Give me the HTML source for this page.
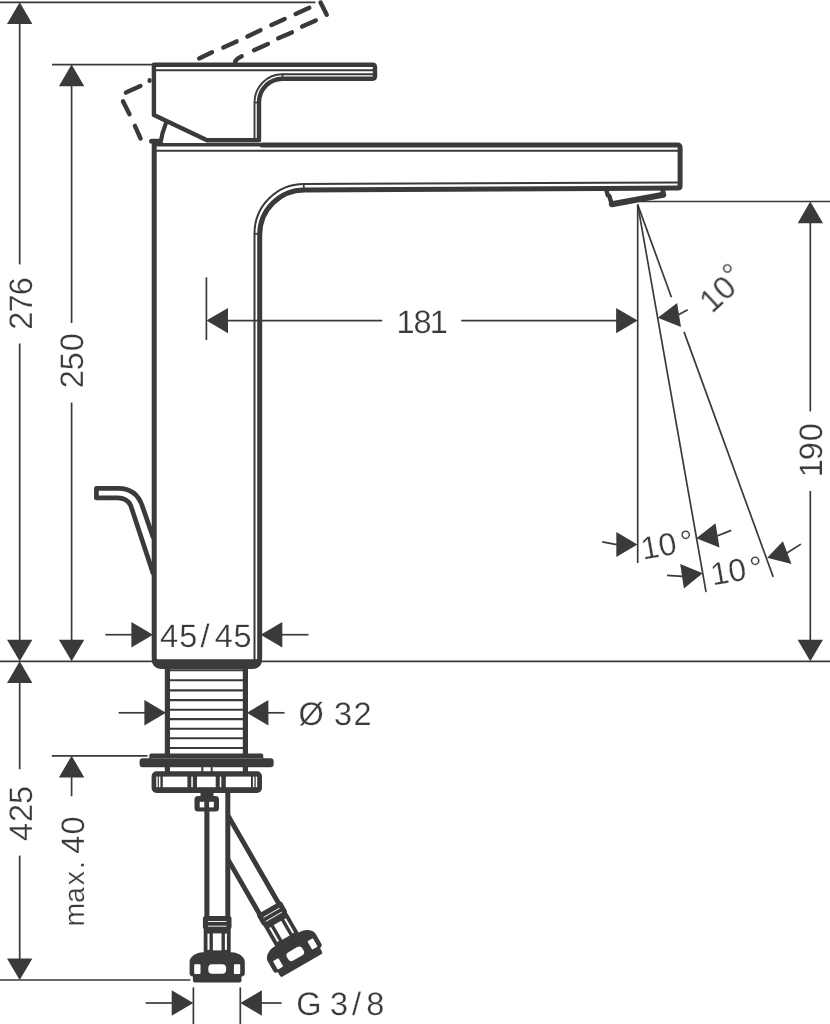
<!DOCTYPE html>
<html><head><meta charset="utf-8"><title>Dimension drawing</title>
<style>
html,body{margin:0;padding:0;background:#fff;}
svg{display:block;}
text{font-family:"Liberation Sans",sans-serif;text-rendering:geometricPrecision;}
</style></head>
<body>
<svg width="830" height="1024" viewBox="0 0 830 1024">
<rect width="830" height="1024" fill="#fff"/>
<line x1="0" y1="2.3" x2="315.5" y2="2.3" stroke="#3a3a3a" stroke-width="1.7" stroke-linecap="butt"/>
<polygon points="19.7,2.3 32.4,23.9 7.0,23.9" fill="#3a3a3a"/>
<line x1="19.7" y1="22" x2="19.7" y2="264.4" stroke="#3a3a3a" stroke-width="1.7" stroke-linecap="butt"/>
<line x1="19.7" y1="343.5" x2="19.7" y2="642" stroke="#3a3a3a" stroke-width="1.7" stroke-linecap="butt"/>
<polygon points="19.7,661.3 7.0,639.7 32.4,639.7" fill="#3a3a3a"/>
<line x1="52" y1="64.6" x2="152" y2="64.6" stroke="#3a3a3a" stroke-width="1.7" stroke-linecap="butt"/>
<polygon points="71.6,64.6 84.3,86.2 58.9,86.2" fill="#3a3a3a"/>
<line x1="71.6" y1="84" x2="71.6" y2="323" stroke="#3a3a3a" stroke-width="1.7" stroke-linecap="butt"/>
<line x1="71.6" y1="402.5" x2="71.6" y2="642" stroke="#3a3a3a" stroke-width="1.7" stroke-linecap="butt"/>
<polygon points="71.6,661.3 58.9,639.7 84.3,639.7" fill="#3a3a3a"/>
<line x1="0" y1="661.3" x2="830" y2="661.3" stroke="#3a3a3a" stroke-width="1.7" stroke-linecap="butt"/>
<polygon points="19.7,661.3 32.4,682.9 7.0,682.9" fill="#3a3a3a"/>
<line x1="19.7" y1="681" x2="19.7" y2="769.3" stroke="#3a3a3a" stroke-width="1.7" stroke-linecap="butt"/>
<line x1="19.7" y1="855.6" x2="19.7" y2="960" stroke="#3a3a3a" stroke-width="1.7" stroke-linecap="butt"/>
<polygon points="19.7,980.0 7.0,958.4 32.4,958.4" fill="#3a3a3a"/>
<line x1="0" y1="980" x2="190.4" y2="980" stroke="#3a3a3a" stroke-width="1.7" stroke-linecap="butt"/>
<line x1="51.8" y1="755.8" x2="147.5" y2="755.8" stroke="#3a3a3a" stroke-width="1.7" stroke-linecap="butt"/>
<polygon points="71.6,755.8 84.3,777.4 58.9,777.4" fill="#3a3a3a"/>
<line x1="71.6" y1="776" x2="71.6" y2="796.3" stroke="#3a3a3a" stroke-width="1.7" stroke-linecap="butt"/>
<line x1="105.4" y1="634.7" x2="133" y2="634.7" stroke="#3a3a3a" stroke-width="1.7" stroke-linecap="butt"/>
<polygon points="153.0,634.7 131.4,647.4 131.4,622.0" fill="#3a3a3a"/>
<polygon points="260.7,634.7 282.3,622.0 282.3,647.4" fill="#3a3a3a"/>
<line x1="281" y1="634.7" x2="308.5" y2="634.7" stroke="#3a3a3a" stroke-width="1.7" stroke-linecap="butt"/>
<line x1="118.6" y1="712.8" x2="146" y2="712.8" stroke="#3a3a3a" stroke-width="1.7" stroke-linecap="butt"/>
<polygon points="166.0,712.8 144.4,725.5 144.4,700.1" fill="#3a3a3a"/>
<polygon points="246.8,712.8 268.4,700.1 268.4,725.5" fill="#3a3a3a"/>
<line x1="267" y1="712.8" x2="284.5" y2="712.8" stroke="#3a3a3a" stroke-width="1.7" stroke-linecap="butt"/>
<line x1="145.6" y1="1003" x2="174" y2="1003" stroke="#3a3a3a" stroke-width="1.7" stroke-linecap="butt"/>
<polygon points="193.3,1003.0 171.7,1015.7 171.7,990.3" fill="#3a3a3a"/>
<polygon points="240.3,1003.0 261.9,990.3 261.9,1015.7" fill="#3a3a3a"/>
<line x1="260" y1="1003" x2="281.6" y2="1003" stroke="#3a3a3a" stroke-width="1.7" stroke-linecap="butt"/>
<line x1="193.4" y1="987.4" x2="193.4" y2="1024" stroke="#3a3a3a" stroke-width="1.7" stroke-linecap="butt"/>
<line x1="240.3" y1="987.4" x2="240.3" y2="1024" stroke="#3a3a3a" stroke-width="1.7" stroke-linecap="butt"/>
<line x1="206.4" y1="277.3" x2="206.4" y2="340" stroke="#3a3a3a" stroke-width="1.7" stroke-linecap="butt"/>
<polygon points="206.4,320.6 228.0,307.9 228.0,333.3" fill="#3a3a3a"/>
<line x1="227" y1="320.6" x2="382.2" y2="320.6" stroke="#3a3a3a" stroke-width="1.7" stroke-linecap="butt"/>
<line x1="461.2" y1="320.6" x2="617" y2="320.6" stroke="#3a3a3a" stroke-width="1.7" stroke-linecap="butt"/>
<polygon points="637.7,320.6 616.1,333.3 616.1,307.9" fill="#3a3a3a"/>
<line x1="640" y1="201.5" x2="830" y2="201.5" stroke="#3a3a3a" stroke-width="1.7" stroke-linecap="butt"/>
<polygon points="810.3,201.6 823.0,223.2 797.6,223.2" fill="#3a3a3a"/>
<line x1="810.3" y1="222" x2="810.3" y2="411.4" stroke="#3a3a3a" stroke-width="1.7" stroke-linecap="butt"/>
<line x1="810.3" y1="491" x2="810.3" y2="641" stroke="#3a3a3a" stroke-width="1.7" stroke-linecap="butt"/>
<polygon points="810.3,661.3 797.6,639.7 823.0,639.7" fill="#3a3a3a"/>
<line x1="637.7" y1="204.6" x2="637.7" y2="563" stroke="#3a3a3a" stroke-width="1.7" stroke-linecap="butt"/>
<line x1="637.7" y1="204.6" x2="706.0443377226011" y2="592.2" stroke="#3a3a3a" stroke-width="1.7" stroke-linecap="butt"/>
<line x1="637.7" y1="204.6" x2="671.4036436930504" y2="297.2" stroke="#3a3a3a" stroke-width="1.7" stroke-linecap="butt"/>
<line x1="684.0334108220876" y1="331.9" x2="773.2061182173072" y2="576.9" stroke="#3a3a3a" stroke-width="1.7" stroke-linecap="butt"/>
<polygon points="657.8,317.8 677.1,303.0 681.0,327.1" fill="#3a3a3a"/>
<line x1="678.5" y1="314.8" x2="687.7" y2="309.7" stroke="#3a3a3a" stroke-width="1.7" stroke-linecap="butt"/>
<polygon points="637.4,544.5 616.3,531.9 616.3,557.0" fill="#3a3a3a"/>
<line x1="602.2" y1="541.8" x2="616.8" y2="544.6" stroke="#3a3a3a" stroke-width="1.7" stroke-linecap="butt"/>
<polygon points="696.3,538.2 715.5,523.3 719.5,547.6" fill="#3a3a3a"/>
<line x1="717" y1="536" x2="731.2" y2="530.4" stroke="#3a3a3a" stroke-width="1.7" stroke-linecap="butt"/>
<polygon points="702.7,573.2 680.2,563.9 683.9,588.4" fill="#3a3a3a"/>
<line x1="667" y1="575.4" x2="682.5" y2="576.3" stroke="#3a3a3a" stroke-width="1.7" stroke-linecap="butt"/>
<polygon points="767.2,557.8 782.9,541.3 791.5,564.0" fill="#3a3a3a"/>
<line x1="786.5" y1="553.2" x2="800.9" y2="544.1" stroke="#3a3a3a" stroke-width="1.7" stroke-linecap="butt"/>
<g fill="#3a3a3a" font-family="&quot;Liberation Sans&quot;, sans-serif" stroke="#fff" stroke-width="0.25" opacity="0.999">
<text transform="translate(32.0 0) rotate(-90)" font-size="32.5" x="-329.7 -312.4 -295.3" y="0">276</text>
<text transform="translate(83.2 0) rotate(-90)" font-size="32.5" x="-388.3 -370.2 -351.2" y="0">250</text>
<text transform="translate(32.0 0) rotate(-90)" font-size="32.5" x="-841.1 -821.9 -804.0" y="0">425</text>
<text transform="translate(83.5 0) rotate(-90)" font-size="32.5" y="0"><tspan font-size="28.5" x="-926.6 -903.1 -885.2 -869.0">max.</tspan> <tspan x="-853.7 -834.6">40</tspan></text>
<text transform="translate(822.0 0) rotate(-90)" font-size="32.5" x="-477.2 -460.3 -441.3" y="0">190</text>
<text font-size="32.5" x="160.0 179.2 200.5 214.8 233.4" y="646.7">45/45</text>
<text font-size="32.5" x="298.4 324.9 334.0 353.4" y="724.5">Ø 32</text>
<text font-size="32.5" x="296.2 320.8 329.9 352.1 366.3" y="1014.8">G 3/8</text>
<text font-size="32.5" x="396.5 413.4 429.8" y="332.9">181</text>
<text x="712.1" y="314.2" transform="rotate(-43 712.1 314.2)" font-size="32" dx="0 0 0.4" dy="0 0 -5.2">10°</text>
<text x="643.1" y="559.8" transform="rotate(-10 643.1 559.8)" font-size="32" dx="0 0 4.2" dy="0 0 0.7">10°</text>
<text x="712.8" y="585.6" transform="rotate(-10 712.8 585.6)" font-size="32" dx="0 0 4.2" dy="0 0 0.7">10°</text>
</g>
<path d="M154.2,145 L154.2,657.5 Q154.2,663 159.5,663 L254.5,663 Q259.7,663 259.7,657.5 L259.7,234.6 A44.7,44.7 0 0 1 304.4,189.9 L677.5,188.1 Q680.1,188.1 680.1,186 L680.1,148 Q680.1,145 677.5,145 L262,145" fill="none" stroke="#3a3a3a" stroke-width="5.0" stroke-linejoin="round" stroke-linecap="round"/>
<path d="M154.2,144.7 L262,144.7" fill="none" stroke="#3a3a3a" stroke-width="3.5" stroke-linejoin="round" stroke-linecap="butt"/>
<path d="M155,150.7 L679,150.7" fill="none" stroke="#3a3a3a" stroke-width="2.1" stroke-linejoin="round" stroke-linecap="butt"/>
<path d="M254.5,662 L254.5,233.6 A49.5,49.5 0 0 1 304,184 L679,182.5" fill="none" stroke="#3a3a3a" stroke-width="2.0" stroke-linejoin="round" stroke-linecap="butt"/>
<line x1="254" y1="233.8" x2="260" y2="233.8" stroke="#3a3a3a" stroke-width="1.7" stroke-linecap="butt"/>
<line x1="303.8" y1="183" x2="303.8" y2="190" stroke="#3a3a3a" stroke-width="1.7" stroke-linecap="butt"/>
<path d="M151.7,659.3 L262.2,659.3 C262.2,665 258.5,668.9 252.5,668.9 L161.5,668.9 C155.5,668.9 151.7,665 151.7,659.3 Z" fill="#3a3a3a"/>
<path d="M153.9,64.8 L372.5,64.8 Q375,64.8 375,67.5 L375,76 Q375,78.7 372.5,78.7 L282.5,78.7 A23.5,23.5 0 0 0 259,102.2 L259,140.2 L207,140.2 L153.9,115 Z" fill="none" stroke="#3a3a3a" stroke-width="4.4" stroke-linejoin="round" stroke-linecap="round"/>
<path d="M155,70.3 L373,70.3" fill="none" stroke="#3a3a3a" stroke-width="1.9" stroke-linejoin="round" stroke-linecap="butt"/>
<path d="M373,74.3 L282.5,74.3 A28,28 0 0 0 254.5,102.3 L254.5,140" fill="none" stroke="#3a3a3a" stroke-width="1.9" stroke-linejoin="round" stroke-linecap="butt"/>
<line x1="254" y1="102.5" x2="259" y2="102.5" stroke="#3a3a3a" stroke-width="1.7" stroke-linecap="butt"/>
<line x1="282.5" y1="73.5" x2="282.5" y2="79" stroke="#3a3a3a" stroke-width="1.7" stroke-linecap="butt"/>
<path d="M165.7,123.7 Q162,133 160.6,142.5" fill="none" stroke="#3a3a3a" stroke-width="4.2" stroke-linejoin="round" stroke-linecap="round"/>
<path d="M151.5,141.3 L160,141.3" fill="none" stroke="#3a3a3a" stroke-width="5" stroke-linejoin="round" stroke-linecap="round"/>
<line x1="199.1" y1="58.4" x2="212" y2="52.2" stroke="#3a3a3a" stroke-width="4.4" stroke-linecap="round"/>
<line x1="223.3" y1="47.5" x2="236.6" y2="41.4" stroke="#3a3a3a" stroke-width="4.4" stroke-linecap="round"/>
<line x1="247.4" y1="36.5" x2="260.5" y2="30.3" stroke="#3a3a3a" stroke-width="4.4" stroke-linecap="round"/>
<line x1="271.4" y1="25" x2="284.7" y2="19" stroke="#3a3a3a" stroke-width="4.4" stroke-linecap="round"/>
<line x1="295.6" y1="13.9" x2="309.3" y2="7.8" stroke="#3a3a3a" stroke-width="4.4" stroke-linecap="round"/>
<line x1="320.6" y1="2.5" x2="326.7" y2="14.7" stroke="#3a3a3a" stroke-width="4.4" stroke-linecap="round"/>
<line x1="254" y1="50.2" x2="267.9" y2="44" stroke="#3a3a3a" stroke-width="4.4" stroke-linecap="round"/>
<line x1="278.2" y1="38.3" x2="291.9" y2="32.4" stroke="#3a3a3a" stroke-width="4.4" stroke-linecap="round"/>
<line x1="302.1" y1="26.6" x2="315.8" y2="20.5" stroke="#3a3a3a" stroke-width="4.4" stroke-linecap="round"/>
<line x1="125.9" y1="92.6" x2="140.4" y2="86.1" stroke="#3a3a3a" stroke-width="4.4" stroke-linecap="round"/>
<line x1="123" y1="101.3" x2="129.5" y2="114.3" stroke="#3a3a3a" stroke-width="4.4" stroke-linecap="round"/>
<line x1="134.9" y1="125.9" x2="140.6" y2="138.5" stroke="#3a3a3a" stroke-width="4.4" stroke-linecap="round"/>
<path d="M235.1,61.5 Q237.5,58 241.7,56.3" fill="none" stroke="#3a3a3a" stroke-width="4.4" stroke-linejoin="round" stroke-linecap="round"/>
<line x1="149.6" y1="80.2" x2="149.6" y2="81" stroke="#3a3a3a" stroke-width="4.2" stroke-linecap="round"/>
<path d="M606.3,190 L607.8,195.3 L609.3,196 L611.8,204.3" fill="none" stroke="#3a3a3a" stroke-width="4.4" stroke-linejoin="round" stroke-linecap="round"/>
<path d="M611.8,204.3 L663.2,194.7" fill="none" stroke="#3a3a3a" stroke-width="6" stroke-linejoin="round" stroke-linecap="round"/>
<path d="M663,190 L663,195" fill="none" stroke="#3a3a3a" stroke-width="5" stroke-linejoin="round" stroke-linecap="round"/>
<path d="M153,537 L142.1,505.5 C138,494 130,488.4 118.6,488.4 L96.4,488.4 L96.4,497.9 L117.5,497.9 C124,497.9 128,500 130.7,505.5 L153,573" fill="none" stroke="#3a3a3a" stroke-width="4.7" stroke-linejoin="round" stroke-linecap="round"/>
<line x1="167.4" y1="664" x2="167.4" y2="772" stroke="#3a3a3a" stroke-width="5.2" stroke-linecap="butt"/>
<line x1="245.4" y1="664" x2="245.4" y2="772" stroke="#3a3a3a" stroke-width="5.2" stroke-linecap="butt"/>
<line x1="168" y1="670.2" x2="245" y2="670.2" stroke="#3a3a3a" stroke-width="2.1" stroke-linecap="butt"/>
<line x1="168" y1="680.3" x2="245" y2="680.3" stroke="#3a3a3a" stroke-width="2.1" stroke-linecap="butt"/>
<line x1="168" y1="690.4" x2="245" y2="690.4" stroke="#3a3a3a" stroke-width="2.1" stroke-linecap="butt"/>
<line x1="168" y1="700.1" x2="245" y2="700.1" stroke="#3a3a3a" stroke-width="2.1" stroke-linecap="butt"/>
<line x1="168" y1="709.8" x2="245" y2="709.8" stroke="#3a3a3a" stroke-width="2.1" stroke-linecap="butt"/>
<line x1="168" y1="719.1" x2="245" y2="719.1" stroke="#3a3a3a" stroke-width="2.1" stroke-linecap="butt"/>
<line x1="168" y1="728.7" x2="245" y2="728.7" stroke="#3a3a3a" stroke-width="2.1" stroke-linecap="butt"/>
<line x1="168" y1="738.3" x2="245" y2="738.3" stroke="#3a3a3a" stroke-width="2.1" stroke-linecap="butt"/>
<line x1="168" y1="748" x2="245" y2="748" stroke="#3a3a3a" stroke-width="2.1" stroke-linecap="butt"/>
<rect x="149.3" y="753.6" width="114" height="7" rx="2" fill="#3a3a3a"/>
<rect x="139.6" y="758.2" width="134" height="9" rx="3" fill="#3a3a3a"/>
<line x1="202.3" y1="767" x2="202.3" y2="772" stroke="#3a3a3a" stroke-width="2" stroke-linecap="butt"/>
<line x1="211.7" y1="767" x2="211.7" y2="772" stroke="#3a3a3a" stroke-width="2" stroke-linecap="butt"/>
<line x1="151" y1="758.4" x2="262" y2="758.4" stroke="#fff" stroke-width="0.6" opacity="0.45"/>
<rect x="151.6" y="771.2" width="110.4" height="21.8" rx="5" fill="#3a3a3a"/>
<rect x="156.3" y="776.6" width="1.4" height="10.6" fill="#fff"/>
<rect x="158.9" y="776.6" width="1.5" height="10.6" fill="#fff"/>
<rect x="162.8" y="776.6" width="24.6" height="10.6" fill="#fff"/>
<rect x="191.3" y="776.6" width="1.5" height="10.6" fill="#fff"/>
<rect x="197" y="776.6" width="18.7" height="10.6" fill="#fff"/>
<rect x="219.8" y="776.6" width="1.5" height="10.6" fill="#fff"/>
<rect x="225.8" y="776.6" width="25.2" height="10.6" fill="#fff"/>
<rect x="252.9" y="776.6" width="1.5" height="10.6" fill="#fff"/>
<rect x="255.7" y="776.6" width="1.5" height="10.6" fill="#fff"/>
<rect x="200.5" y="792" width="13" height="6" fill="#3a3a3a"/>
<rect x="194.5" y="796" width="24.5" height="15.4" rx="3.5" fill="#3a3a3a"/>
<rect x="199.7" y="801.8" width="4.6" height="5.6" fill="#fff"/>
<rect x="209.1" y="801.8" width="4.7" height="5.6" fill="#fff"/>
<line x1="206.9" y1="810" x2="206.9" y2="918" stroke="#3a3a3a" stroke-width="5.1" stroke-linecap="butt"/>
<line x1="227.8" y1="792" x2="227.8" y2="918" stroke="#3a3a3a" stroke-width="5" stroke-linecap="butt"/>
<line x1="227.8" y1="815.3" x2="278.72229374252504" y2="903.5" stroke="#3a3a3a" stroke-width="4.9" stroke-linecap="butt"/>
<line x1="227.8" y1="859.1" x2="259.4965297785104" y2="914" stroke="#3a3a3a" stroke-width="4.9" stroke-linecap="butt"/>
<g transform="translate(217.2 915.9)"><rect x="-14.3" y="0" width="28.6" height="13.3" rx="2.5" fill="#3a3a3a"/><rect x="-9.2" y="5.2" width="18.4" height="0.9" fill="#fff"/><rect x="-9.2" y="9.8" width="18.4" height="0.9" fill="#fff"/><rect x="-13.5" y="12" width="27" height="26" fill="#3a3a3a"/><rect x="-9.7" y="17.7" width="2" height="16.3" fill="#fff"/><rect x="7.7" y="17.7" width="2" height="16.3" fill="#fff"/><rect x="-4.3" y="17.5" width="8.6" height="17" fill="#fff"/><path d="M-13.5,36.4 L-17,36.6 C-22,37.5 -27.6,41 -27.6,46 L-27.6,57.5 Q-27.6,60 -24.3,60.5 L-24.3,64.5 Q-24.3,66.5 -22.3,66.5 L22.3,66.5 Q24.3,66.5 24.3,64.5 L24.3,60.5 Q27.6,60 27.6,57.5 L27.6,46 C27.6,41 22,37.5 17,36.6 L13.5,36.4 Z" fill="#3a3a3a"/><rect x="-23" y="48.3" width="6.3" height="9.8" rx="0.8" fill="#fff"/><rect x="16.7" y="48.3" width="6.3" height="9.8" rx="0.8" fill="#fff"/><rect x="-8.9" y="48.3" width="17.8" height="9.6" rx="3.8" fill="#fff"/></g>
<g transform="translate(268.7 907.8) rotate(-30)"><rect x="-14.3" y="0" width="28.6" height="13.3" rx="2.5" fill="#3a3a3a"/><rect x="-9.2" y="5.2" width="18.4" height="0.9" fill="#fff"/><rect x="-9.2" y="9.8" width="18.4" height="0.9" fill="#fff"/><rect x="-13.5" y="12" width="27" height="26" fill="#3a3a3a"/><rect x="-9.7" y="17.7" width="2" height="16.3" fill="#fff"/><rect x="7.7" y="17.7" width="2" height="16.3" fill="#fff"/><rect x="-4.3" y="17.5" width="8.6" height="17" fill="#fff"/><path d="M-13.5,36.4 L-17,36.6 C-22,37.5 -27.6,41 -27.6,46 L-27.6,57.5 Q-27.6,60 -24.3,60.5 L-24.3,64.5 Q-24.3,66.5 -22.3,66.5 L22.3,66.5 Q24.3,66.5 24.3,64.5 L24.3,60.5 Q27.6,60 27.6,57.5 L27.6,46 C27.6,41 22,37.5 17,36.6 L13.5,36.4 Z" fill="#3a3a3a"/><rect x="-23" y="48.3" width="6.3" height="9.8" rx="0.8" fill="#fff"/><rect x="16.7" y="48.3" width="6.3" height="9.8" rx="0.8" fill="#fff"/><rect x="-8.9" y="48.3" width="17.8" height="9.6" rx="3.8" fill="#fff"/></g>
</svg>
</body></html>
